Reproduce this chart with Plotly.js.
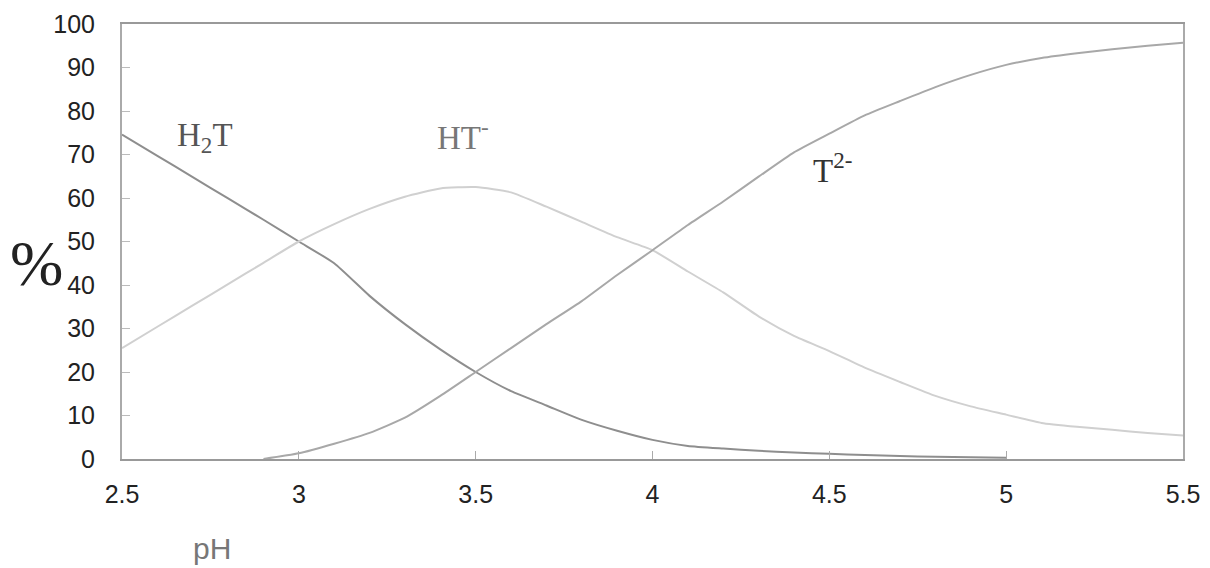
<!DOCTYPE html>
<html>
<head>
<meta charset="utf-8">
<script src="https://cdn.plot.ly/plotly-3.0.1.min.js"></script>
<style>
html,body{margin:0;padding:0;background:#fff;}
#chart{width:1210px;height:568px;}
</style>
</head>
<body>
<div id="chart"></div>
<script>
// pH grid
const pH_H2T = [2.5,2.6,2.7,2.8,2.9,3.0,3.1,3.2,3.3,3.4,3.5,3.6,3.7,3.8,3.9,4.0,4.1,4.2,4.3,4.4,4.5,4.6,4.7,4.8,4.9,5.0];
const H2T    = [74.6,69.7,64.8,59.9,55.0,50.0,45.0,37.5,31.0,25.2,20.0,15.6,12.3,9.0,6.5,4.4,3.0,2.4,1.9,1.5,1.2,0.9,0.7,0.5,0.4,0.3];

const pH_HT = [2.5,2.6,2.7,2.8,2.9,3.0,3.1,3.2,3.3,3.4,3.5,3.6,3.7,3.8,3.9,4.0,4.1,4.2,4.3,4.4,4.5,4.6,4.7,4.8,4.9,5.0,5.1,5.2,5.3,5.4,5.5];
const HT    = [25.5,30.4,35.3,40.2,45.1,50.0,54.0,57.5,60.3,62.2,62.5,61.3,58.0,54.5,51.0,48.0,43.1,38.3,32.8,28.3,24.8,21.0,17.7,14.5,12.1,10.2,8.3,7.4,6.7,6.0,5.4];

const pH_T = [2.9,3.0,3.1,3.2,3.3,3.4,3.5,3.6,3.7,3.8,3.9,4.0,4.1,4.2,4.3,4.4,4.5,4.6,4.7,4.8,4.9,5.0,5.1,5.2,5.3,5.4,5.5];
const T2   = [0.0,1.3,3.5,6.0,9.5,14.5,20.0,25.5,31.0,36.3,42.3,48.0,53.8,59.2,64.9,70.5,74.8,79.0,82.3,85.5,88.3,90.6,92.2,93.3,94.2,95.0,95.7];

const xTicks = [2.5,3,3.5,4,4.5,5,5.5];
const xTickText = ['2.5','3','3.5','4','4.5','5','5.5'];
const yTicks = [0,10,20,30,40,50,60,70,80,90,100];

const traces = [
  {x: pH_H2T, y: H2T, mode:'lines', line:{color:'#8e8e8e', width:2, shape:'spline', smoothing:0.5}, hoverinfo:'skip'},
  {x: pH_HT,  y: HT,  mode:'lines', line:{color:'#d0d0d0', width:2, shape:'spline', smoothing:0.5}, hoverinfo:'skip'},
  {x: pH_T,   y: T2,  mode:'lines', line:{color:'#a8a8a8', width:2, shape:'spline', smoothing:0.5}, hoverinfo:'skip'}
];

const layout = {
  width:1210, height:568,
  margin:{l:122, r:27, t:24, b:109},
  paper_bgcolor:'#fff', plot_bgcolor:'#fff',
  showlegend:false,
  font:{family:'"Liberation Sans", Arial, sans-serif', color:'#222', size:25},
  xaxis:{
    range:[2.5,5.5], tickvals:xTicks, ticktext:xTickText,
    ticks:'inside', ticklen:8, tickcolor:'#aaa', tickwidth:1,
    showline:true, linecolor:'#999', linewidth:2, mirror:true,
    showgrid:false, zeroline:false,
    ticklabelstandoff:12,
    tickfont:{size:25, color:'#222'}
  },
  yaxis:{
    range:[0,100], tickvals:yTicks,
    ticks:'inside', ticklen:8, tickcolor:'#bbb', tickwidth:1,
    showline:true, linecolor:'#aaa', linewidth:2, mirror:true,
    showgrid:false, zeroline:false,
    ticklabelstandoff:20,
    tickfont:{size:25, color:'#222'}
  },
  annotations:[
    {xref:'paper', yref:'paper', x:-0.081, y:0.45, xanchor:'center', yanchor:'middle',
     text:'%', showarrow:false, font:{family:'"Liberation Serif", serif', size:64, color:'#222'}},
    {xref:'paper', yref:'paper', x:0.085, y:-0.205, xanchor:'center', yanchor:'middle',
     text:'pH', showarrow:false, font:{family:'"Liberation Sans", Arial, sans-serif', size:30, color:'#777'}},
    {xref:'x', yref:'y', x:2.735, y:74.0, xanchor:'center', yanchor:'middle',
     text:'H<sub>2</sub>T', showarrow:false, font:{family:'"Liberation Serif", serif', size:33, color:'#555'}},
    {xref:'x', yref:'y', x:3.465, y:74.5, xanchor:'center', yanchor:'middle',
     text:'HT<sup>-</sup>', showarrow:false, font:{family:'"Liberation Serif", serif', size:33, color:'#777'}},
    {xref:'x', yref:'y', x:4.51, y:67.0, xanchor:'center', yanchor:'middle',
     text:'T<sup>2-</sup>', showarrow:false, font:{family:'"Liberation Serif", serif', size:33, color:'#333'}}
  ]
};

Plotly.newPlot('chart', traces, layout, {staticPlot:true, displayModeBar:false});
</script>
</body>
</html>
